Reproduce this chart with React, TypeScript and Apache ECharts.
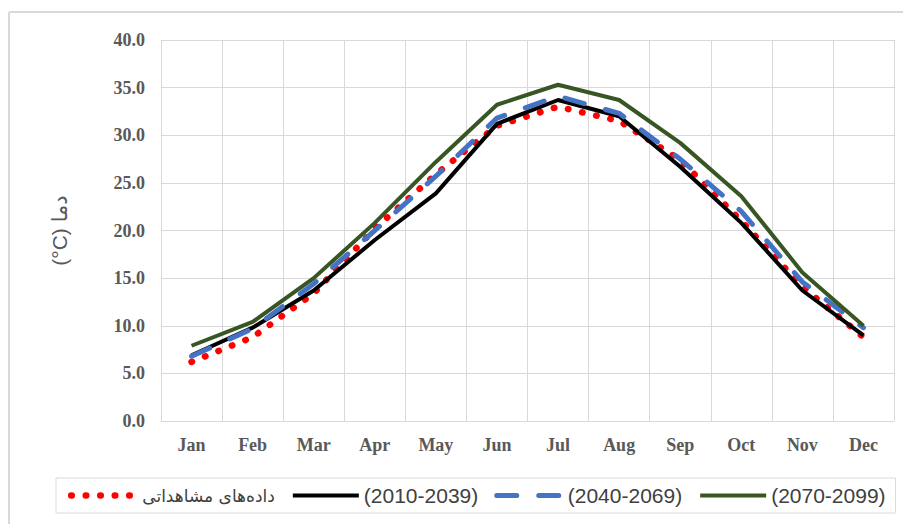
import React, { useEffect, useRef } from "react";
import * as echarts from "echarts";

const months = ["Jan", "Feb", "Mar", "Apr", "May", "Jun", "Jul", "Aug", "Sep", "Oct", "Nov", "Dec"];
const observed = [6.2, 8.8, 13.4, 20.2, 25.9, 31.0, 33.0, 31.5, 27.4, 21.0, 14.1, 8.8];
const p2010 = [6.9, 9.8, 13.7, 19.0, 23.9, 31.2, 33.7, 32.0, 26.7, 20.8, 13.7, 9.0];
const p2040 = [6.8, 9.7, 14.4, 20.0, 25.7, 31.8, 34.1, 32.3, 27.5, 22.0, 14.6, 9.8];
const p2070 = [7.9, 10.4, 15.0, 20.8, 27.2, 33.2, 35.3, 33.7, 29.2, 23.6, 15.6, 10.0];
const seriesNames = ["داده‌های مشاهداتی", "(2010-2039)", "(2040-2069)", "(2070-2099)"];
const yTicks = { min: 0, max: 40, interval: 5 };
const yName = "(°C) دما";

export default function App() {
  const ref = useRef<HTMLDivElement>(null);
  useEffect(() => {
    if (!ref.current) return;
    const chart = echarts.init(ref.current, undefined, { renderer: "svg" });
    const labelFont = { fontFamily: "Liberation Serif", fontWeight: "bold" as const, fontSize: 18, color: "#595959" };
    chart.setOption({
      animation: false,
      backgroundColor: "#ffffff",
      grid: { left: 161, right: 15, top: 40, bottom: 103 },
      graphic: [
        { type: "line", shape: { x1: 9, y1: 12, x2: 903, y2: 12 }, style: { stroke: "#d9d9d9", lineWidth: 2 } },
        { type: "line", shape: { x1: 9, y1: 12, x2: 9, y2: 524 }, style: { stroke: "#d9d9d9", lineWidth: 2 } },
      ],
      legend: {
        left: 56,
        top: 478,
        width: 837,
        padding: [7, 10, 7, 12],
        borderColor: "#d9d9d9",
        borderWidth: 1,
        itemWidth: 66,
        itemHeight: 20,
        itemGap: 16,
        itemStyle: { opacity: 0 },
        lineStyle: { width: "inherit" },
        formatter: (name: string) => (name === seriesNames[0] ? `{ar|${name}}` : name),
        textStyle: {
          fontFamily: "Liberation Sans, DejaVu Sans",
          fontSize: 21,
          color: "#404040",
          rich: { ar: { fontFamily: "DejaVu Sans", fontSize: 17, color: "#404040" } },
        },
        data: seriesNames,
      },
      xAxis: {
        type: "category",
        data: months,
        boundaryGap: true,
        axisLine: { lineStyle: { color: "#d9d9d9", width: 1 } },
        axisTick: { show: false },
        splitLine: { show: true, lineStyle: { color: "#d9d9d9", width: 1 } },
        axisLabel: { ...labelFont, margin: 15 },
      },
      yAxis: {
        type: "value",
        min: yTicks.min,
        max: yTicks.max,
        interval: yTicks.interval,
        name: yName,
        nameLocation: "middle",
        nameRotate: 90,
        nameGap: 91,
        nameTextStyle: { fontFamily: "Liberation Sans, DejaVu Sans", fontSize: 21, color: "#595959" },
        axisLine: { show: false },
        axisTick: { show: false },
        splitLine: { lineStyle: { color: "#d9d9d9", width: 1 } },
        axisLabel: { ...labelFont, margin: 16, formatter: (v: number) => v.toFixed(1) },
      },
      series: [
        {
          name: seriesNames[0],
          type: "line",
          data: observed,
          symbol: "none",
          lineStyle: { color: "#ff0000", width: 6.5, type: [0.5, 14], cap: "round" },
          itemStyle: { color: "#ff0000" },
          z: 2,
        },
        {
          name: seriesNames[1],
          type: "line",
          data: p2010,
          symbol: "none",
          lineStyle: { color: "#000000", width: 4 },
          itemStyle: { color: "#000000" },
          z: 3,
        },
        {
          name: seriesNames[2],
          type: "line",
          data: p2040,
          symbol: "none",
          lineStyle: { color: "#4472c4", width: 5, type: [20, 22], cap: "round" },
          itemStyle: { color: "#4472c4" },
          z: 4,
        },
        {
          name: seriesNames[3],
          type: "line",
          data: p2070,
          symbol: "none",
          lineStyle: { color: "#375623", width: 4 },
          itemStyle: { color: "#375623" },
          z: 5,
        },
      ],
    });
    return () => chart.dispose();
  }, []);
  return (
    <div
      ref={ref}
      style={{ position: "absolute", left: 0, top: 0, width: 909, height: 524, background: "#fff" }}
    />
  );
}
